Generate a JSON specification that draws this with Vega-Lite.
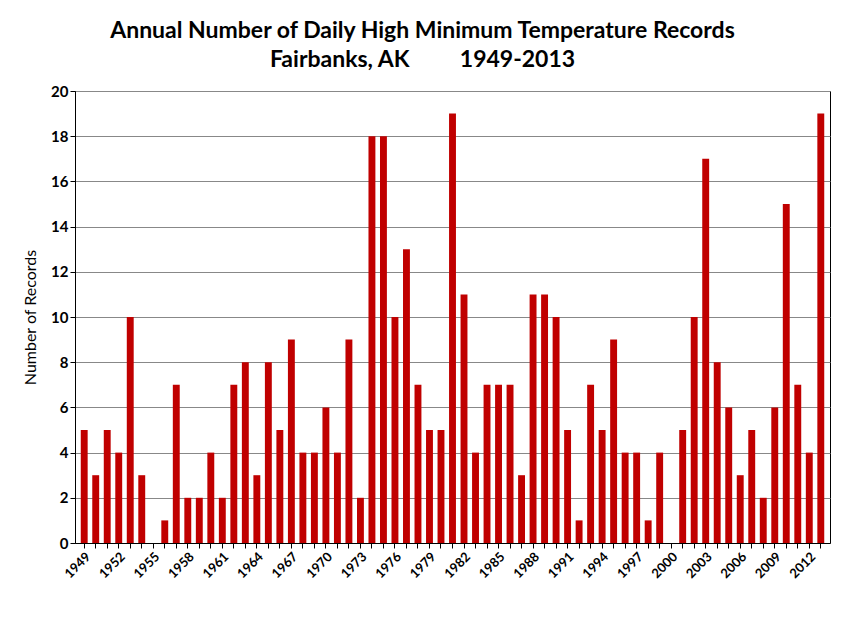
{
  "$schema": "https://vega.github.io/schema/vega-lite/v6.json",
  "width": 755,
  "height": 452,
  "padding": {"left": 22, "top": 20, "right": 5, "bottom": 5},
  "background": "white",
  "title": {
    "text": ["Annual Number of Daily High Minimum Temperature Records", "Fairbanks,  AK\u00a0\u00a0\u00a0\u00a0\u00a0\u00a0\u00a0\u00a0\u00a01949-2013"],
    "font": "Lato",
    "fontSize": 23,
    "fontWeight": "bold",
    "color": "black",
    "lineHeight": 29,
    "offset": 12,
    "dx": -30
  },
  "config": {
    "font": "Lato",
    "view": {"stroke": "black", "strokeWidth": 1}
  },
  "data": {
    "values": [
      {"year": "1949", "n": 5}, {"year": "1950", "n": 3}, {"year": "1951", "n": 5}, {"year": "1952", "n": 4},
      {"year": "1953", "n": 10}, {"year": "1954", "n": 3}, {"year": "1955", "n": 0}, {"year": "1956", "n": 1},
      {"year": "1957", "n": 7}, {"year": "1958", "n": 2}, {"year": "1959", "n": 2}, {"year": "1960", "n": 4},
      {"year": "1961", "n": 2}, {"year": "1962", "n": 7}, {"year": "1963", "n": 8}, {"year": "1964", "n": 3},
      {"year": "1965", "n": 8}, {"year": "1966", "n": 5}, {"year": "1967", "n": 9}, {"year": "1968", "n": 4},
      {"year": "1969", "n": 4}, {"year": "1970", "n": 6}, {"year": "1971", "n": 4}, {"year": "1972", "n": 9},
      {"year": "1973", "n": 2}, {"year": "1974", "n": 18}, {"year": "1975", "n": 18}, {"year": "1976", "n": 10},
      {"year": "1977", "n": 13}, {"year": "1978", "n": 7}, {"year": "1979", "n": 5}, {"year": "1980", "n": 5},
      {"year": "1981", "n": 19}, {"year": "1982", "n": 11}, {"year": "1983", "n": 4}, {"year": "1984", "n": 7},
      {"year": "1985", "n": 7}, {"year": "1986", "n": 7}, {"year": "1987", "n": 3}, {"year": "1988", "n": 11},
      {"year": "1989", "n": 11}, {"year": "1990", "n": 10}, {"year": "1991", "n": 5}, {"year": "1992", "n": 1},
      {"year": "1993", "n": 7}, {"year": "1994", "n": 5}, {"year": "1995", "n": 9}, {"year": "1996", "n": 4},
      {"year": "1997", "n": 4}, {"year": "1998", "n": 1}, {"year": "1999", "n": 4}, {"year": "2000", "n": 0},
      {"year": "2001", "n": 5}, {"year": "2002", "n": 10}, {"year": "2003", "n": 17}, {"year": "2004", "n": 8},
      {"year": "2005", "n": 6}, {"year": "2006", "n": 3}, {"year": "2007", "n": 5}, {"year": "2008", "n": 2},
      {"year": "2009", "n": 6}, {"year": "2010", "n": 15}, {"year": "2011", "n": 7}, {"year": "2012", "n": 4},
      {"year": "2013", "n": 19}
    ]
  },
  "mark": {"type": "bar", "color": "#c00000"},
  "encoding": {
    "x": {
      "field": "year",
      "type": "ordinal",
      "scale": {"paddingInner": 0.4, "paddingOuter": 0.5},
      "axis": {
        "title": null,
        "labelAngle": -45,
        "labelAlign": "right",
        "labelBaseline": "top",
        "labelFontSize": 13,
        "labelFontWeight": "bold",
        "labelColor": "black",
        "labelExpr": "(toNumber(datum.value) - 1949) % 3 == 0 ? datum.value : ''",
        "tickColor": "black",
        "domainColor": "black",
        "tickSize": 5
      }
    },
    "y": {
      "field": "n",
      "type": "quantitative",
      "scale": {"domain": [0, 20]},
      "axis": {
        "title": "Number of Records",
        "titleFontSize": 16,
        "titleFontWeight": "normal",
        "titleColor": "black",
        "titlePadding": 12,
        "values": [0, 2, 4, 6, 8, 10, 12, 14, 16, 18, 20],
        "labelFontSize": 15,
        "labelFontWeight": "bold",
        "labelColor": "black",
        "gridColor": "#888888",
        "tickColor": "black",
        "domainColor": "black"
      }
    }
  }
}
